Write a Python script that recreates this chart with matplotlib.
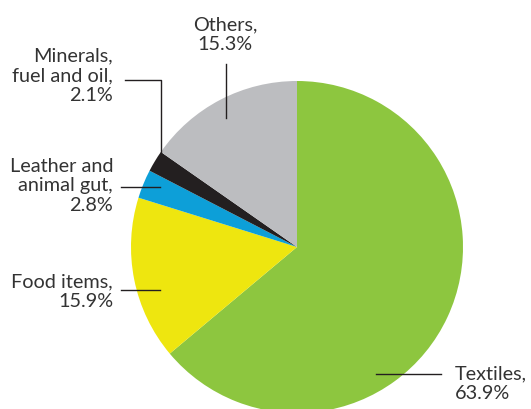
import matplotlib.pyplot as plt

# export share by product group (%)
labels = ["Textiles", "Food items", "Leather and\nanimal gut", "Minerals,\nfuel and oil", "Others"]
shares = [63.9, 15.9, 2.8, 2.1, 15.3]
colors = ["#8dc63f", "#eee60f", "#0d9fd8", "#231f20", "#bcbdc0"]

W, H = 531, 409
fig = plt.figure(figsize=(W / 100, H / 100), dpi=100)
ax = fig.add_axes([0, 0, 1, 1])

# pie drawn in pixel coordinates (y measured from bottom)
ax.pie(shares, colors=colors, startangle=90, counterclock=False,
       center=(297, H - 247), radius=166, frame=True,
       wedgeprops=dict(linewidth=0))
ax.set_xlim(0, W)
ax.set_ylim(0, H)
ax.axis("off")

txt = dict(fontsize=14.3, color="#333333", family="Lato", linespacing=1.2)
lc = "#231f20"

def y(v):
    return H - v

# Others
ax.text(225, y(35), f"{labels[4]},\n{shares[4]}%", ha="center", va="center", **txt)
ax.plot([226, 226], [y(64), y(118)], color=lc, lw=1)

# Minerals
ax.text(113, y(76), f"{labels[3]},\n{shares[3]}%", ha="right", va="center", **txt)
ax.plot([125, 161, 161], [y(80), y(80), y(157)], color=lc, lw=1)

# Leather
ax.text(113, y(186), f"{labels[2]},\n{shares[2]}%", ha="right", va="center", **txt)
ax.plot([121, 160], [y(187), y(187)], color=lc, lw=1)

# Food
ax.text(113, y(292), f"{labels[1]},\n{shares[1]}%", ha="right", va="center", **txt)
ax.plot([121, 160], [y(290), y(290)], color=lc, lw=1)

# Textiles
ax.text(455, y(384), f"{labels[0]},\n{shares[0]}%", ha="left", va="center", **txt)
ax.plot([376, 441], [y(374), y(374)], color=lc, lw=1)

fig.savefig("out.png", dpi=100)
